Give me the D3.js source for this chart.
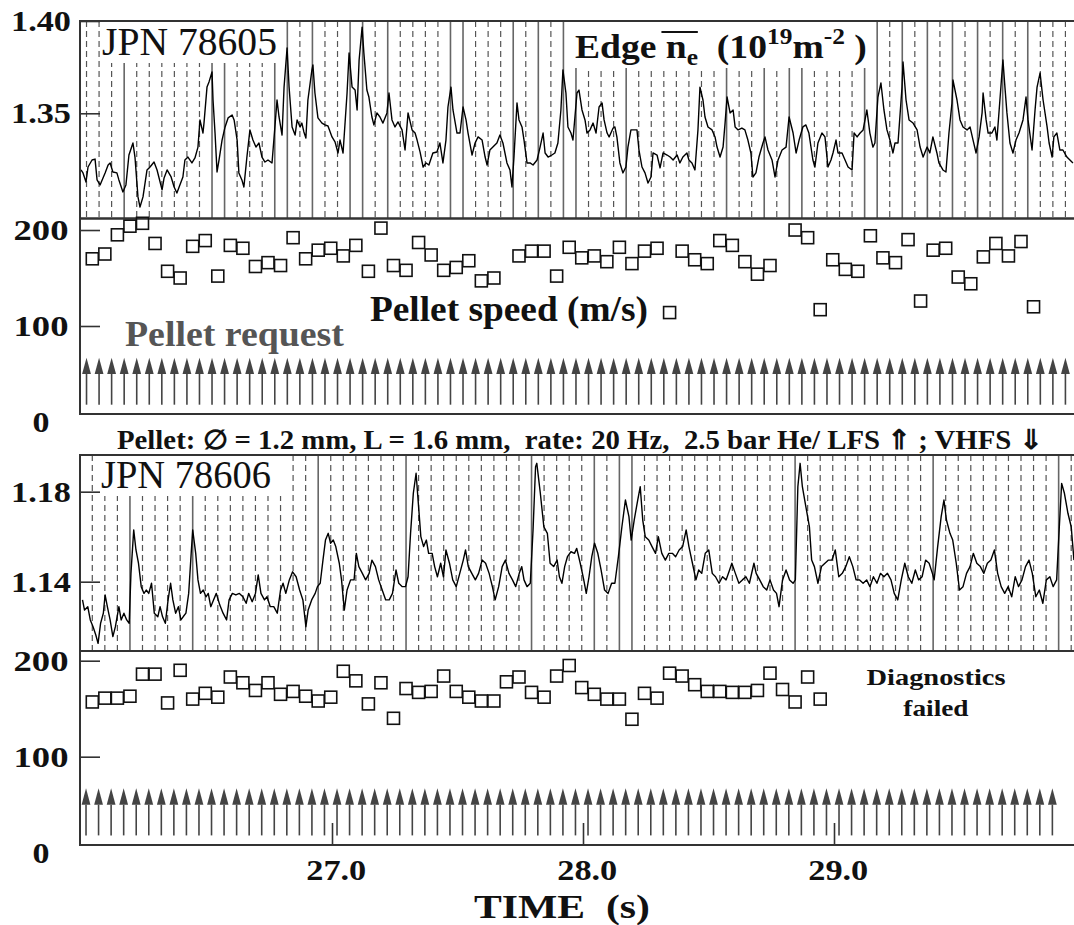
<!DOCTYPE html>
<html>
<head>
<meta charset="utf-8">
<script src="https://cdn.jsdelivr.net/npm/d3@7"></script>
<style>
body { margin: 0; background: #fff; }
svg text { font-family: "Liberation Serif", "Times New Roman", serif; }
</style>
</head>
<body>
<svg id="chart" width="1074" height="925"></svg>
<script>
// ---- data (time in s) ----

// edge line-integrated density, shot 78605 (10^19 m^-2)
const edge78605 = [
[26.000,1.3193],[26.008,1.3177],[26.020,1.3128],[26.028,1.3209],[26.044,1.3247],[26.056,1.3252],[26.064,1.3139],[26.076,1.3112],[26.096,1.3177],[26.108,1.3220],
[26.116,1.3231],[26.127,1.3182],[26.143,1.3177],[26.151,1.3139],[26.167,1.3074],[26.179,1.3112],[26.191,1.3274],[26.207,1.3339],[26.215,1.3263],[26.227,1.3047],
[26.235,1.2992],[26.247,1.3047],[26.263,1.3193],[26.275,1.3209],[26.291,1.3236],[26.303,1.3193],[26.323,1.3085],[26.331,1.3150],[26.343,1.3193],[26.359,1.3155],
[26.371,1.3101],[26.382,1.3068],[26.394,1.3112],[26.406,1.3155],[26.414,1.3247],[26.426,1.3263],[26.442,1.3231],[26.454,1.3258],[26.466,1.3317],[26.474,1.3464],
[26.486,1.3393],[26.490,1.3447],[26.502,1.3642],[26.510,1.3670],[26.522,1.3724],[26.526,1.3572],[26.534,1.3393],[26.542,1.3182],[26.550,1.3247],[26.562,1.3355],
[26.574,1.3426],[26.586,1.3475],[26.602,1.3491],[26.610,1.3464],[26.622,1.3355],[26.629,1.3177],[26.641,1.3139],[26.649,1.3101],[26.661,1.3263],[26.673,1.3410],
[26.685,1.3355],[26.697,1.3317],[26.709,1.3339],[26.721,1.3263],[26.733,1.3236],[26.745,1.3247],[26.761,1.3231],[26.769,1.3366],[26.781,1.3572],[26.789,1.3480],
[26.801,1.3382],[26.809,1.3642],[26.821,1.3854],[26.829,1.3642],[26.841,1.3426],[26.853,1.3382],[26.861,1.3464],[26.873,1.3426],[26.880,1.3447],[26.888,1.3399],
[26.896,1.3366],[26.904,1.3572],[26.920,1.3735],[26.924,1.3762],[26.932,1.3610],[26.944,1.3475],[26.960,1.3447],[26.972,1.3437],[26.984,1.3431],[27.000,1.3372],
[27.012,1.3345],[27.024,1.3285],[27.032,1.3355],[27.044,1.3285],[27.060,1.3610],[27.068,1.3827],[27.080,1.3642],[27.092,1.3626],[27.100,1.3518],[27.108,1.3789],
[27.120,1.3967],[27.127,1.3827],[27.139,1.3626],[27.147,1.3588],[27.159,1.3480],[27.167,1.3437],[27.179,1.3502],[27.191,1.3480],[27.203,1.3447],[27.219,1.3502],
[27.227,1.3610],[27.239,1.3464],[27.251,1.3426],[27.263,1.3453],[27.279,1.3410],[27.291,1.3301],[27.303,1.3502],[27.319,1.3410],[27.331,1.3393],[27.339,1.3355],
[27.351,1.3290],[27.363,1.3209],[27.375,1.3231],[27.386,1.3220],[27.402,1.3285],[27.418,1.3290],[27.430,1.3339],[27.442,1.3231],[27.454,1.3355],[27.462,1.3534],
[27.474,1.3642],[27.482,1.3518],[27.498,1.3393],[27.510,1.3393],[27.522,1.3534],[27.534,1.3464],[27.542,1.3393],[27.558,1.3274],[27.570,1.3339],[27.582,1.3372],
[27.598,1.3355],[27.610,1.3263],[27.618,1.3220],[27.629,1.3301],[27.641,1.3317],[27.657,1.3339],[27.669,1.3382],[27.681,1.3339],[27.697,1.3231],[27.709,1.3193],
[27.717,1.3101],[27.725,1.3263],[27.737,1.3556],[27.745,1.3464],[27.757,1.3426],[27.765,1.3355],[27.777,1.3231],[27.789,1.3231],[27.801,1.3220],[27.817,1.3247],
[27.829,1.3317],[27.841,1.3393],[27.849,1.3285],[27.861,1.3263],[27.876,1.3274],[27.888,1.3285],[27.900,1.3339],[27.912,1.3518],[27.920,1.3735],[27.932,1.3610],
[27.940,1.3426],[27.952,1.3393],[27.960,1.3355],[27.976,1.3610],[27.984,1.3626],[27.996,1.3518],[28.008,1.3464],[28.016,1.3393],[28.028,1.3410],[28.040,1.3447],
[28.052,1.3393],[28.064,1.3534],[28.076,1.3556],[28.084,1.3464],[28.096,1.3393],[28.104,1.3372],[28.120,1.3420],[28.127,1.3426],[28.135,1.3372],[28.147,1.3231],
[28.159,1.3177],[28.171,1.3209],[28.179,1.3317],[28.191,1.3410],[28.199,1.3410],[28.215,1.3410],[28.223,1.3301],[28.235,1.3209],[28.247,1.3177],[28.259,1.3122],
[28.271,1.3155],[28.279,1.3285],[28.295,1.3274],[28.307,1.3204],[28.319,1.3285],[28.335,1.3274],[28.347,1.3263],[28.359,1.3247],[28.375,1.3274],[28.386,1.3231],
[28.398,1.3263],[28.414,1.3285],[28.422,1.3247],[28.434,1.3231],[28.446,1.3193],[28.458,1.3410],[28.466,1.3642],[28.478,1.3572],[28.486,1.3480],[28.498,1.3426],
[28.514,1.3410],[28.526,1.3372],[28.534,1.3317],[28.546,1.3263],[28.558,1.3317],[28.566,1.3447],[28.574,1.3588],[28.586,1.3502],[28.598,1.3518],[28.606,1.3426],
[28.618,1.3410],[28.633,1.3420],[28.645,1.3410],[28.657,1.3355],[28.669,1.3285],[28.677,1.3155],[28.689,1.3177],[28.701,1.3263],[28.717,1.3339],[28.725,1.3372],
[28.737,1.3301],[28.753,1.3247],[28.765,1.3155],[28.777,1.3247],[28.793,1.3301],[28.809,1.3317],[28.821,1.3480],[28.837,1.3393],[28.849,1.3285],[28.861,1.3355],
[28.876,1.3426],[28.888,1.3437],[28.900,1.3393],[28.916,1.3247],[28.924,1.3209],[28.936,1.3339],[28.952,1.3393],[28.964,1.3372],[28.976,1.3209],[28.988,1.3247],
[28.996,1.3285],[29.008,1.3355],[29.016,1.3285],[29.032,1.3285],[29.044,1.3247],[29.056,1.3209],[29.072,1.3193],[29.080,1.3393],[29.092,1.3372],[29.104,1.3393],
[29.116,1.3410],[29.131,1.3518],[29.143,1.3393],[29.155,1.3317],[29.163,1.3339],[29.175,1.3588],[29.187,1.3664],[29.199,1.3518],[29.211,1.3410],[29.223,1.3355],
[29.235,1.3285],[29.243,1.3339],[29.255,1.3339],[29.271,1.3642],[29.275,1.3778],[29.287,1.3572],[29.299,1.3464],[29.315,1.3447],[29.331,1.3410],[29.343,1.3317],
[29.355,1.3263],[29.371,1.3317],[29.382,1.3285],[29.394,1.3372],[29.410,1.3285],[29.418,1.3231],[29.434,1.3193],[29.446,1.3182],[29.458,1.3393],[29.470,1.3556],
[29.474,1.3680],[29.490,1.3572],[29.502,1.3464],[29.514,1.3426],[29.530,1.3410],[29.542,1.3426],[29.554,1.3355],[29.566,1.3285],[29.578,1.3372],[29.590,1.3502],
[29.594,1.3610],[29.606,1.3464],[29.614,1.3393],[29.629,1.3393],[29.641,1.3426],[29.649,1.3355],[29.661,1.3572],[29.673,1.3789],[29.681,1.3642],[29.689,1.3502],
[29.701,1.3339],[29.713,1.3285],[29.725,1.3355],[29.737,1.3393],[29.753,1.3464],[29.765,1.3588],[29.773,1.3464],[29.789,1.3301],[29.801,1.3518],[29.809,1.3642],
[29.821,1.3718],[29.833,1.3572],[29.849,1.3426],[29.857,1.3339],[29.869,1.3263],[29.876,1.3372],[29.888,1.3393],[29.900,1.3301],[29.912,1.3301],[29.928,1.3263],
[29.940,1.3247],[29.952,1.3231]
];

// edge density, shot 78606
const edge78606 = [
[26.006,1.1319],[26.014,1.1274],[26.027,1.1289],[26.037,1.1230],[26.048,1.1200],[26.059,1.1163],[26.068,1.1126],[26.078,1.1215],[26.089,1.1260],[26.096,1.1341],
[26.105,1.1289],[26.116,1.1230],[26.127,1.1156],[26.137,1.1200],[26.151,1.1289],[26.160,1.1230],[26.171,1.1260],[26.182,1.1230],[26.192,1.1215],[26.199,1.1437],
[26.210,1.1630],[26.219,1.1541],[26.229,1.1482],[26.240,1.1378],[26.251,1.1348],[26.260,1.1363],[26.270,1.1348],[26.281,1.1393],[26.292,1.1260],[26.306,1.1244],
[26.315,1.1289],[26.325,1.1244],[26.336,1.1215],[26.347,1.1319],[26.357,1.1393],[26.366,1.1319],[26.377,1.1260],[26.388,1.1289],[26.398,1.1230],[26.407,1.1244],
[26.418,1.1260],[26.429,1.1348],[26.439,1.1526],[26.445,1.1630],[26.457,1.1526],[26.466,1.1408],[26.476,1.1348],[26.487,1.1363],[26.498,1.1333],[26.507,1.1348],
[26.517,1.1289],[26.528,1.1319],[26.539,1.1348],[26.553,1.1296],[26.566,1.1260],[26.580,1.1230],[26.590,1.1319],[26.603,1.1348],[26.617,1.1341],[26.631,1.1348],
[26.645,1.1333],[26.658,1.1304],[26.668,1.1348],[26.682,1.1311],[26.695,1.1348],[26.706,1.1430],[26.717,1.1348],[26.731,1.1319],[26.741,1.1333],[26.754,1.1289],
[26.768,1.1289],[26.782,1.1260],[26.795,1.1363],[26.805,1.1393],[26.816,1.1348],[26.830,1.1408],[26.843,1.1444],[26.857,1.1422],[26.871,1.1363],[26.884,1.1319],
[26.896,1.1200],[26.905,1.1274],[26.919,1.1319],[26.933,1.1348],[26.942,1.1378],[26.953,1.1393],[26.964,1.1496],[26.974,1.1585],[26.985,1.1615],[26.994,1.1571],
[27.005,1.1585],[27.015,1.1556],[27.029,1.1482],[27.038,1.1408],[27.049,1.1274],[27.060,1.1363],[27.074,1.1408],[27.088,1.1408],[27.097,1.1526],[27.107,1.1467],
[27.121,1.1437],[27.134,1.1408],[27.148,1.1437],[27.159,1.1496],[27.173,1.1467],[27.186,1.1408],[27.200,1.1363],[27.214,1.1319],[27.228,1.1319],[27.241,1.1348],
[27.255,1.1452],[27.266,1.1393],[27.280,1.1378],[27.293,1.1378],[27.303,1.1422],[27.313,1.1615],[27.324,1.1793],[27.335,1.1882],[27.344,1.1748],[27.354,1.1600],
[27.365,1.1556],[27.376,1.1585],[27.385,1.1526],[27.399,1.1526],[27.409,1.1467],[27.420,1.1422],[27.433,1.1482],[27.444,1.1422],[27.454,1.1541],[27.468,1.1482],
[27.481,1.1408],[27.495,1.1378],[27.509,1.1437],[27.523,1.1496],[27.532,1.1541],[27.543,1.1467],[27.557,1.1437],[27.571,1.1408],[27.584,1.1437],[27.598,1.1496],
[27.612,1.1482],[27.626,1.1437],[27.639,1.1378],[27.650,1.1319],[27.664,1.1378],[27.678,1.1467],[27.691,1.1496],[27.705,1.1437],[27.719,1.1408],[27.732,1.1378],
[27.746,1.1437],[27.756,1.1467],[27.765,1.1408],[27.777,1.1378],[27.790,1.1393],[27.801,1.1630],[27.811,1.1911],[27.816,1.1926],[27.830,1.1793],[27.844,1.1644],
[27.858,1.1615],[27.869,1.1482],[27.883,1.1467],[27.897,1.1496],[27.906,1.1422],[27.916,1.1393],[27.927,1.1467],[27.938,1.1511],[27.952,1.1533],[27.966,1.1526],
[27.975,1.1548],[27.989,1.1482],[28.003,1.1408],[28.013,1.1348],[28.024,1.1422],[28.035,1.1511],[28.046,1.1571],[28.059,1.1526],[28.072,1.1452],[28.086,1.1363],
[28.100,1.1348],[28.114,1.1393],[28.127,1.1393],[28.141,1.1511],[28.155,1.1644],[28.169,1.1763],[28.183,1.1689],[28.192,1.1585],[28.204,1.1674],[28.218,1.1763],
[28.228,1.1822],[28.238,1.1674],[28.248,1.1600],[28.262,1.1585],[28.275,1.1556],[28.289,1.1526],[28.300,1.1600],[28.314,1.1526],[28.328,1.1496],[28.342,1.1526],
[28.356,1.1526],[28.369,1.1511],[28.383,1.1541],[28.397,1.1556],[28.411,1.1630],[28.422,1.1556],[28.436,1.1482],[28.450,1.1408],[28.461,1.1452],[28.473,1.1437],
[28.487,1.1526],[28.501,1.1541],[28.515,1.1437],[28.528,1.1422],[28.542,1.1393],[28.556,1.1422],[28.570,1.1408],[28.584,1.1452],[28.593,1.1482],[28.607,1.1437],
[28.621,1.1393],[28.635,1.1408],[28.649,1.1422],[28.663,1.1393],[28.681,1.1482],[28.690,1.1437],[28.704,1.1408],[28.718,1.1378],[28.732,1.1363],[28.745,1.1408],
[28.759,1.1363],[28.771,1.1348],[28.781,1.1289],[28.795,1.1408],[28.809,1.1452],[28.823,1.1408],[28.837,1.1393],[28.846,1.1408],[28.856,1.1822],[28.865,1.1926],
[28.874,1.1822],[28.888,1.1733],[28.902,1.1644],[28.911,1.1496],[28.922,1.1467],[28.936,1.1393],[28.950,1.1467],[28.964,1.1482],[28.978,1.1496],[28.992,1.1496],
[29.005,1.1541],[29.019,1.1422],[29.033,1.1437],[29.047,1.1467],[29.061,1.1511],[29.075,1.1467],[29.088,1.1408],[29.102,1.1408],[29.116,1.1393],[29.130,1.1408],
[29.143,1.1378],[29.157,1.1422],[29.171,1.1393],[29.185,1.1437],[29.199,1.1422],[29.213,1.1437],[29.227,1.1408],[29.240,1.1348],[29.254,1.1319],[29.268,1.1408],
[29.282,1.1482],[29.296,1.1422],[29.310,1.1393],[29.324,1.1452],[29.337,1.1408],[29.351,1.1422],[29.365,1.1496],[29.379,1.1482],[29.392,1.1437],[29.399,1.1408],
[29.413,1.1556],[29.427,1.1689],[29.438,1.1763],[29.448,1.1674],[29.462,1.1615],[29.473,1.1585],[29.487,1.1482],[29.500,1.1363],[29.514,1.1378],[29.528,1.1437],
[29.542,1.1467],[29.555,1.1526],[29.569,1.1482],[29.583,1.1467],[29.597,1.1437],[29.611,1.1482],[29.625,1.1496],[29.639,1.1541],[29.652,1.1437],[29.666,1.1378],
[29.680,1.1348],[29.694,1.1378],[29.708,1.1333],[29.722,1.1422],[29.735,1.1378],[29.749,1.1408],[29.763,1.1467],[29.777,1.1496],[29.790,1.1437],[29.804,1.1333],
[29.818,1.1363],[29.832,1.1304],[29.846,1.1408],[29.860,1.1422],[29.873,1.1378],[29.887,1.1408],[29.897,1.1630],[29.907,1.1837],[29.918,1.1793],[29.932,1.1704],
[29.945,1.1644],[29.956,1.1496]
];

// pellet request times (20 Hz)
const request78605 = [
26.022,26.072,26.122,26.172,26.222,26.272,26.322,26.372,26.422,26.472,
26.522,26.572,26.622,26.672,26.722,26.772,26.822,26.872,26.922,26.972,
27.022,27.072,27.122,27.172,27.222,27.272,27.322,27.372,27.422,27.472,
27.522,27.572,27.622,27.672,27.722,27.772,27.822,27.872,27.922,27.972,
28.022,28.072,28.122,28.172,28.222,28.272,28.322,28.372,28.422,28.472,
28.522,28.572,28.622,28.672,28.722,28.772,28.822,28.872,28.922,28.972,
29.022,29.072,29.122,29.172,29.222,29.272,29.322,29.372,29.422,29.472,
29.522,29.572,29.622,29.672,29.722,29.772,29.822,29.872,29.922
];
const request78606 = [
26.020,26.070,26.120,26.170,26.220,26.270,26.320,26.370,26.420,26.470,
26.520,26.570,26.620,26.670,26.720,26.770,26.820,26.870,26.920,26.970,
27.020,27.070,27.120,27.170,27.220,27.270,27.320,27.370,27.420,27.470,
27.520,27.570,27.620,27.670,27.720,27.770,27.820,27.870,27.920,27.970,
28.020,28.070,28.120,28.170,28.220,28.270,28.320,28.370,28.420,28.470,
28.520,28.570,28.620,28.670,28.720,28.770,28.820,28.870,28.920,28.970,
29.020,29.070,29.120,29.170,29.220,29.270,29.320,29.370,29.420,29.470,
29.520,29.570,29.620,29.670,29.720,29.770,29.820,29.870
];
// pellet arrival times
const arrival = [
26.045,26.095,26.145,26.195,26.245,26.295,26.345,26.395,26.445,26.495,
26.545,26.595,26.645,26.695,26.745,26.795,26.845,26.895,26.945,26.995,
27.045,27.095,27.145,27.195,27.245,27.295,27.345,27.395,27.445,27.495,
27.545,27.595,27.645,27.695,27.745,27.795,27.845,27.895,27.945,27.995,
28.045,28.095,28.145,28.195,28.245,28.295,28.345,28.395,28.445,28.495,
28.545,28.595,28.645,28.695,28.745,28.795,28.845,28.895,28.945,28.995,
29.045,29.095,29.145,29.195,29.245,29.295,29.345,29.395,29.445,29.495,
29.545,29.595,29.645,29.695,29.745,29.795,29.845,29.895,29.945
];
// pellet speed (m/s) per arrival, null = no measurement
const speed78605 = [
170,175,195,204,207,186,157,150,183,189,
152,184,181,162,166,163,192,170,179,181,
173,184,157,202,163,158,187,174,158,161,
168,147,150,null,173,178,178,152,182,171,
173,167,182,165,178,181,114,178,169,165,
189,184,167,154,163,null,200,192,117,169,
159,157,194,171,166,190,126,179,181,151,
144,172,186,173,188,120,null,null,null
];
const speed78606 = [
157,161,161,163,186,186,156,190,160,166,
162,183,177,169,177,165,168,163,158,162,
189,179,155,177,140,171,167,168,184,168,
162,158,158,178,183,167,162,184,195,172,
165,160,160,139,166,161,187,184,175,168,
168,167,167,169,187,170,157,183,160
];
// pellets that reached the plasma (solid markers)
const solid78605 = [26.172,26.522,26.572,26.772,26.822,26.922,27.072,27.122,27.222,27.472,
  27.522,27.722,27.822,27.922,27.972,28.172,28.572,28.722,28.822,28.872,
  29.122,29.172,29.272,29.372,29.472,29.572,29.672,29.772];
const solid78606 = [26.195,26.445,26.945,27.295,27.795,28.045,28.145,28.195,28.845,29.395,29.895];

const densTicks1 = [1.35, 1.40];
const densTicks2 = [1.14, 1.18];
const speedTicks = [0, 100, 200];
const timeTicks = [27, 28, 29];

// ---- layout ----
const svg = d3.select("#chart");
svg.append("rect").attr("width", 1074).attr("height", 925).attr("fill", "#fff");

const leftX = 80, rightX = 1086;
const x = d3.scaleLinear().domain([26, 30]).range([81, 1085]);

const y1 = d3.scaleLinear().domain([1.293, 1.40]).range([218.5, 21]);
const y2 = d3.scaleLinear().domain([8.3, 212]).range([414, 218.5]);
const y3 = d3.scaleLinear().domain([1.1092, 1.1963]).range([651, 455]);
const y4 = d3.scaleLinear().domain([8, 210.1]).range([845, 651]);

const frameColor = "#333";
const bold = "bold";

// stretch a text horizontally so it spans w pixels (the original lettering is wide)
function fit(sel, w) {
  const bb = sel.node().getBBox();
  const anchor = sel.attr("text-anchor") || "start";
  const ax = anchor === "middle" ? bb.x + bb.width / 2 : (anchor === "end" ? bb.x + bb.width : bb.x);
  const sx = w / bb.width;
  sel.attr("transform", "translate(" + ax + ",0) scale(" + sx + ",1) translate(" + (-ax) + ",0)");
}

function clipFor(id, yScale) {
  const r = yScale.range();
  svg.append("clipPath").attr("id", id).append("rect")
    .attr("x", leftX).attr("y", r[1]).attr("width", rightX - leftX).attr("height", r[0] - r[1]);
  return "url(#" + id + ")";
}

function markerLines(g, times, solidTimes, yScale) {
  const r = yScale.range();
  const isSolid = t => solidTimes.some(s => Math.abs(s - t) < 0.01);
  g.selectAll(null).data(times).enter().append("line")
    .attr("x1", d => x(d)).attr("x2", d => x(d))
    .attr("y1", r[1]).attr("y2", r[0])
    .attr("stroke", d => isSolid(d) ? "#666" : "#555")
    .attr("stroke-width", d => isSolid(d) ? 1.6 : 1.2)
    .attr("stroke-dasharray", d => isSolid(d) ? null : "6,4");
}

function trace(g, data, yScale) {
  g.append("path").datum(data)
    .attr("fill", "none").attr("stroke", "#000").attr("stroke-width", 1.4)
    .attr("stroke-linejoin", "round")
    .attr("d", d3.line().x(d => x(d[0])).y(d => yScale(d[1])));
}

function squares(g, speeds, yScale) {
  const pts = speeds.map((v, i) => [arrival[i], v]).filter(d => d[1] !== null);
  g.selectAll(null).data(pts).enter().append("rect")
    .attr("x", d => x(d[0]) - 6).attr("y", d => yScale(d[1]) - 6)
    .attr("width", 12).attr("height", 12)
    .attr("fill", "none").attr("stroke", "#111").attr("stroke-width", 1.6);
}

function arrows(g, times, yScale) {
  const tip = 67, base = 50, tail = 18;
  g.selectAll(null).data(times).enter().append("line")
    .attr("x1", d => x(d)).attr("x2", d => x(d))
    .attr("y1", yScale(base)).attr("y2", yScale(tail))
    .attr("stroke", "#444").attr("stroke-width", 1.6);
  g.selectAll(null).data(times).enter().append("path")
    .attr("d", d => "M" + x(d) + "," + yScale(tip) + "L" + (x(d) + 4.4) + "," + yScale(base) + "L" + (x(d) - 4.4) + "," + yScale(base) + "Z")
    .attr("fill", "#444");
}

function frame(yScale) {
  const r = yScale.range();
  svg.append("rect").attr("x", leftX).attr("y", r[1]).attr("width", rightX - leftX).attr("height", r[0] - r[1])
    .attr("fill", "none").attr("stroke", frameColor).attr("stroke-width", 2);
}

function yAxis(yScale, values, fmt, widths) {
  const ax = svg.append("g").attr("transform", "translate(" + leftX + ",0)")
    .call(d3.axisLeft(yScale).tickValues(values).tickFormat(fmt)
      .tickSizeInner(-20).tickSizeOuter(0).tickPadding(39));
  ax.select(".domain").remove();
  ax.selectAll(".tick line").attr("stroke", frameColor).attr("stroke-width", 1.6);
  const dom = yScale.domain();
  ax.selectAll(".tick").filter(d => d < dom[0] || d > dom[1]).select("line").remove();
  ax.selectAll(".tick text")
    .attr("text-anchor", "middle").attr("font-size", 30).attr("font-weight", bold).attr("fill", "#111")
    .each(function (d) { fit(d3.select(this), widths(d)); });
}

function whiteBox(x0, y0, x1, y1b) {
  svg.append("rect").attr("x", x0).attr("y", y0).attr("width", x1 - x0).attr("height", y1b - y0).attr("fill", "#fff");
}

// ---- panel 1: edge density 78605 ----
const g1 = svg.append("g").attr("clip-path", clipFor("c1", y1));
markerLines(g1, request78605, solid78605, y1);
whiteBox(104, 21, 282, 63);
whiteBox(570, 21, 866, 68);
trace(g1, edge78605, y1);
frame(y1);

// ---- panel 2: pellet speed 78605 ----
const g2 = svg.append("g").attr("clip-path", clipFor("c2", y2));
arrows(g2, request78605, y2);
frame(y2);
const g2s = svg.append("g");
squares(g2s, speed78605, y2);

// ---- panel 3: edge density 78606 ----
const g3 = svg.append("g").attr("clip-path", clipFor("c3", y3));
markerLines(g3, arrival, solid78606, y3);
whiteBox(98, 455, 289, 496);
trace(g3, edge78606, y3);
frame(y3);

// ---- panel 4: pellet speed 78606 ----
const g4 = svg.append("g").attr("clip-path", clipFor("c4", y4));
arrows(g4, request78606, y4);
squares(g4, speed78606, y4);
frame(y4);

// ---- axes ----
const wDens = () => 60;
const wSpeed = d => d === 0 ? 17 : 55;
yAxis(y1, densTicks1, d3.format(".2f"), wDens);
yAxis(y2, speedTicks, d3.format("d"), wSpeed);
yAxis(y3, densTicks2, d3.format(".2f"), wDens);
yAxis(y4, speedTicks, d3.format("d"), wSpeed);

const xa = svg.append("g").attr("transform", "translate(0,845)")
  .call(d3.axisBottom(x).tickValues(timeTicks).tickFormat(d3.format(".1f"))
    .tickSizeInner(-22).tickSizeOuter(0).tickPadding(14));
xa.select(".domain").remove();
xa.selectAll(".tick line").attr("stroke", frameColor).attr("stroke-width", 1.6);
xa.selectAll(".tick text").attr("font-size", 30).attr("font-weight", bold).attr("fill", "#111")
  .each(function () { fit(d3.select(this), 60); });

// ---- labels ----
function label(str, px, py, size, weight, w, anchor, color) {
  const t = svg.append("text").attr("x", px).attr("y", py)
    .attr("font-size", size).attr("font-weight", weight)
    .attr("text-anchor", anchor || "start").attr("fill", color || "#111")
    .text(str);
  if (w) fit(t, w);
  return t;
}

label("JPN 78605", 102, 55, 40, "normal", 175);
label("JPN 78606", 101, 488, 40, "normal", 170);

// Edge n_e (10^19 m^-2), overline on n
const edge = svg.append("text").attr("x", 575).attr("y", 58)
  .attr("font-size", 34).attr("font-weight", bold).attr("fill", "#111");
edge.append("tspan").text("Edge ");
edge.append("tspan").text("n");
edge.append("tspan").attr("font-size", 23).attr("dy", 7).text("e");
edge.append("tspan").attr("dy", -7).text("\u00A0\u00A0(10");
edge.append("tspan").attr("font-size", 23).attr("dy", -14).text("19");
edge.append("tspan").attr("dy", 14).text("m");
edge.append("tspan").attr("font-size", 23).attr("dy", -14).text("-2");
edge.append("tspan").attr("dy", 14).text("\u00A0)");
fit(edge, 292);
const nExt = edge.node().getExtentOfChar("Edge ".length);
svg.append("line").attr("transform", edge.attr("transform"))
  .attr("x1", nExt.x - 4).attr("x2", nExt.x + nExt.width + 10)
  .attr("y1", 32).attr("y2", 32)
  .attr("stroke", "#111").attr("stroke-width", 2);

label("Pellet speed (m/s)", 370, 321, 36, bold, 278);
label("Pellet request", 125, 346, 36, bold, 219, "start", "#555");

label("Pellet: \u2205 = 1.2 mm, L = 1.6 mm,\u00A0 rate: 20 Hz,\u00A0 2.5 bar He/ LFS \u21D1 ; VHFS \u21D3", 117, 449, 27, bold, 928);

label("Diagnostics", 936, 685, 24, bold, 139, "middle");
label("failed", 936, 716, 24, bold, 66, "middle");

label("TIME\u00A0 (s)", 562, 918, 34, bold, 176, "middle");
</script>
</body>
</html>
